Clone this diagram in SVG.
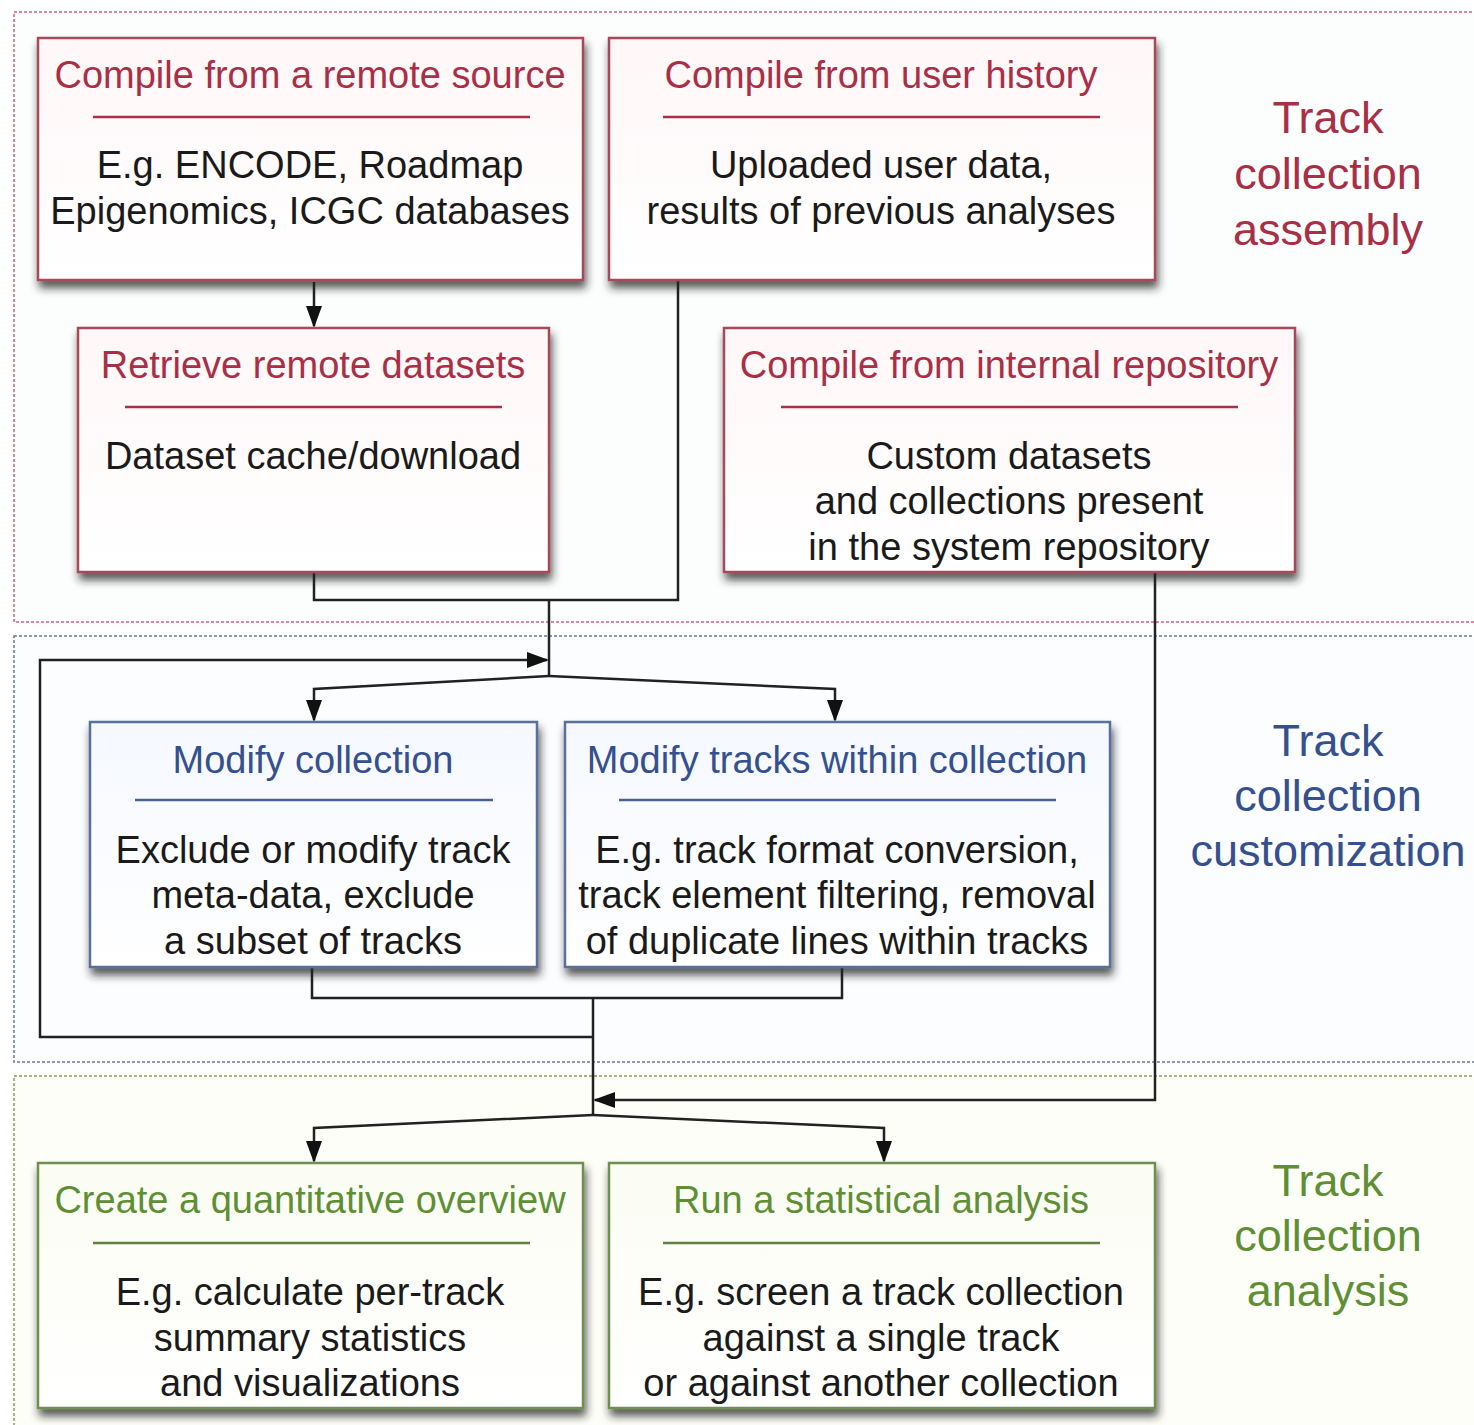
<svg xmlns="http://www.w3.org/2000/svg" width="1474" height="1425" viewBox="0 0 1474 1425">
<style>
text{font-family:"Liberation Sans",Arial,sans-serif;text-anchor:middle}
.t{font-size:38px}
.b{font-size:38px;fill:#1a1a1a}
.lab{font-size:45px}
.red{fill:#a82f45}
.blue{fill:#35508f}
.green{fill:#5e8f35}
.box{stroke-width:2.5;filter:url(#sh)}
.rbox{stroke:#a8485a;fill:url(#gr)}
.bbox{stroke:#5a6f9a;fill:url(#gb)}
.gbox{stroke:#6f8f50;fill:url(#gg)}
.div{stroke-width:2.5}
.conn path{fill:none;stroke:#222;stroke-width:2.5}
.sec{stroke-width:1.5;stroke-dasharray:3 2}
</style>
<defs>
<filter id="sh" x="-10%" y="-10%" width="125%" height="130%">
<feDropShadow dx="2" dy="7" stdDeviation="4" flood-color="#202020" flood-opacity="0.75"/>
</filter>
<linearGradient id="gr" x1="0" y1="0" x2="0" y2="1"><stop offset="0" stop-color="#fff7f8"/><stop offset="1" stop-color="#ffffff"/></linearGradient>
<linearGradient id="gb" x1="0" y1="0" x2="0" y2="1"><stop offset="0" stop-color="#f5f8ff"/><stop offset="1" stop-color="#ffffff"/></linearGradient>
<linearGradient id="gg" x1="0" y1="0" x2="0" y2="1"><stop offset="0" stop-color="#fbfdf3"/><stop offset="1" stop-color="#ffffff"/></linearGradient>
<marker id="ah" markerUnits="userSpaceOnUse" markerWidth="22" markerHeight="16" refX="20" refY="8" orient="auto">
<path d="M0,0 L22,8 L0,16 z" fill="#111"/>
</marker>
</defs>
<rect width="1474" height="1425" fill="#ffffff"/>
<g id="sections">
<rect class="sec" x="14" y="12" width="1480" height="610" fill="#fcfefe" stroke="#c86a78"/>
<rect class="sec" x="14" y="636" width="1480" height="426" fill="#fcfdff" stroke="#6a7aa5"/>
<rect class="sec" x="14" y="1076" width="1480" height="380" fill="#fefef8" stroke="#8a9a60"/>
</g>
<g id="labels">
<text class="lab red" x="1328" y="133">Track</text>
<text class="lab red" x="1328" y="189">collection</text>
<text class="lab red" x="1328" y="245">assembly</text>
<text class="lab blue" x="1328" y="756">Track</text>
<text class="lab blue" x="1328" y="811">collection</text>
<text class="lab blue" x="1328" y="866">customization</text>
<text class="lab green" x="1328" y="1196">Track</text>
<text class="lab green" x="1328" y="1251">collection</text>
<text class="lab green" x="1328" y="1306">analysis</text>
</g>
<g id="connectors" class="conn">
<path d="M314 282 V326" marker-end="url(#ah)"/>
<path d="M314 572 V600 H678 V280"/>
<path d="M549 600 V676"/>
<path d="M549 676 L314 689 V720" marker-end="url(#ah)"/>
<path d="M549 676 L835 689 V720" marker-end="url(#ah)"/>
<path d="M312 967 V998 H842 V967"/>
<path d="M593 998 V1115"/>
<path d="M593 1037 H40 V660 H547" marker-end="url(#ah)"/>
<path d="M1155 572 V1100 H595" marker-end="url(#ah)"/>
<path d="M593 1115 L314 1128 V1161" marker-end="url(#ah)"/>
<path d="M593 1115 L884 1128 V1161" marker-end="url(#ah)"/>
</g>
<g id="n1">
<rect class="box rbox" x="38" y="38" width="545" height="242"/>
<text class="t red" x="310" y="88">Compile from a remote source</text>
<line class="div" x1="93" y1="117" x2="530" y2="117" stroke="#a8304a"/>
<text class="b" x="310" y="178">E.g. ENCODE, Roadmap</text>
<text class="b" x="310" y="224">Epigenomics, ICGC databases</text>
</g>
<g id="n2">
<rect class="box rbox" x="609" y="38" width="546" height="242"/>
<text class="t red" x="881" y="88">Compile from user history</text>
<line class="div" x1="663" y1="117" x2="1100" y2="117" stroke="#a8304a"/>
<text class="b" x="881" y="178">Uploaded user data,</text>
<text class="b" x="881" y="224">results of previous analyses</text>
</g>
<g id="n3">
<rect class="box rbox" x="78" y="328" width="471" height="244"/>
<text class="t red" x="313" y="378">Retrieve remote datasets</text>
<line class="div" x1="125" y1="407" x2="502" y2="407" stroke="#a8304a"/>
<text class="b" x="313" y="469">Dataset cache/download</text>
</g>
<g id="n4">
<rect class="box rbox" x="724" y="328" width="571" height="244"/>
<text class="t red" x="1009" y="378">Compile from internal repository</text>
<line class="div" x1="781" y1="407" x2="1238" y2="407" stroke="#a8304a"/>
<text class="b" x="1009" y="469">Custom datasets</text>
<text class="b" x="1009" y="514">and collections present</text>
<text class="b" x="1009" y="560">in the system repository</text>
</g>
<g id="n5">
<rect class="box bbox" x="90" y="722" width="447" height="245"/>
<text class="t blue" x="313" y="773">Modify collection</text>
<line class="div" x1="135" y1="800" x2="493" y2="800" stroke="#4a5f95"/>
<text class="b" x="313" y="863">Exclude or modify track</text>
<text class="b" x="313" y="908">meta-data, exclude</text>
<text class="b" x="313" y="954">a subset of tracks</text>
</g>
<g id="n6">
<rect class="box bbox" x="565" y="722" width="545" height="245"/>
<text class="t blue" x="837" y="773">Modify tracks within collection</text>
<line class="div" x1="619" y1="800" x2="1056" y2="800" stroke="#4a5f95"/>
<text class="b" x="837" y="863">E.g. track format conversion,</text>
<text class="b" x="837" y="908">track element filtering, removal</text>
<text class="b" x="837" y="954">of duplicate lines within tracks</text>
</g>
<g id="n7">
<rect class="box gbox" x="38" y="1163" width="545" height="245"/>
<text class="t green" x="310" y="1213">Create a quantitative overview</text>
<line class="div" x1="93" y1="1243" x2="530" y2="1243" stroke="#5e8040"/>
<text class="b" x="310" y="1305">E.g. calculate per-track</text>
<text class="b" x="310" y="1351">summary statistics</text>
<text class="b" x="310" y="1396">and visualizations</text>
</g>
<g id="n8">
<rect class="box gbox" x="609" y="1163" width="546" height="245"/>
<text class="t green" x="881" y="1213">Run a statistical analysis</text>
<line class="div" x1="663" y1="1243" x2="1100" y2="1243" stroke="#5e8040"/>
<text class="b" x="881" y="1305">E.g. screen a track collection</text>
<text class="b" x="881" y="1351">against a single track</text>
<text class="b" x="881" y="1396">or against another collection</text>
</g>
</svg>
